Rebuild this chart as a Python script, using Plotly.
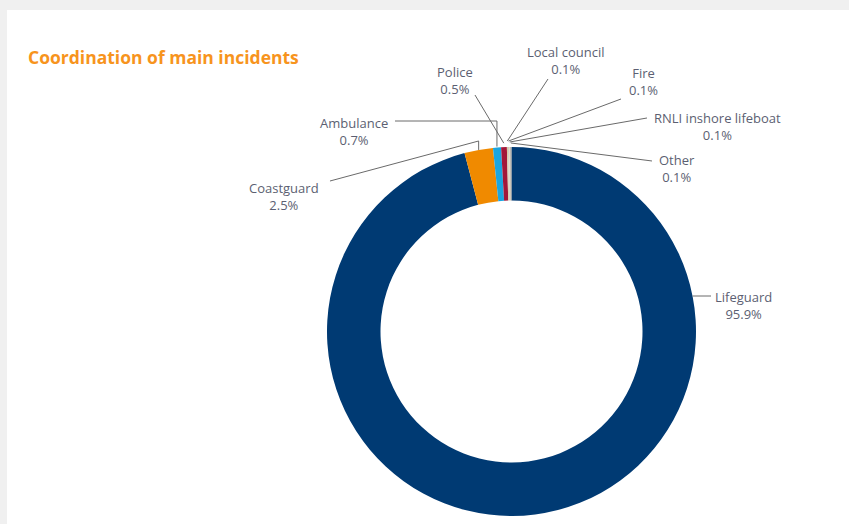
import math
import plotly.graph_objects as go

# ---- data ----
categories = ["Lifeguard", "Coastguard", "Ambulance", "Police", "Local council", "Fire",
              "RNLI inshore lifeboat", "Other"]
values = [95.9, 2.5, 0.7, 0.5, 0.1, 0.1, 0.1, 0.1]
value_labels = ["95.9%", "2.5%", "0.7%", "0.5%", "0.1%", "0.1%", "0.1%", "0.1%"]
colors = ["#003a73", "#f08a00", "#1ba6df", "#a2173a", "#d9c9a0", "#c8c8c8", "#e6d3b0", "#9a9a9a"]

W, H = 849, 524
CX, CY, R_OUT, R_IN = 511.5, 331.5, 184.5, 131.0

def px(x, y):
    return x / W, 1 - y / H

# label layout (pixel centres), leader-line start/elbow points and end-radius offsets
label_pos = {
    "Lifeguard": (743, 305),
    "Coastguard": (284, 196),
    "Ambulance": (354, 131),
    "Police": (455, 80),
    "Local council": (566, 61),
    "Fire": (643, 81),
    "RNLI inshore lifeboat": (717, 126),
    "Other": (677, 168),
}
line_start = {
    "Coastguard": [(330, 181), ("elbow_x", 141)],
    "Ambulance": [(395, 121), ("elbow_x", 121)],
    "Police": [(475, 95)],
    "Local council": [(548, 79)],
    "Fire": [(621, 99)],
    "RNLI inshore lifeboat": [(647, 118)],
    "Other": [(652, 161)],
}
end_offset = {"Coastguard": 0, "Ambulance": 1, "Police": 4, "Local council": 6,
              "Fire": 6, "RNLI inshore lifeboat": 5, "Other": 4}

fig = go.Figure()
fig.add_trace(go.Pie(
    labels=categories, values=values, sort=False, direction="clockwise", rotation=0,
    hole=R_IN / R_OUT, marker=dict(colors=colors, line=dict(width=0)),
    textinfo="none", hoverinfo="label+percent", showlegend=False,
    domain=dict(x=[(CX - R_OUT) / W, (CX + R_OUT) / W],
                y=[1 - (CY + R_OUT) / H, 1 - (CY - R_OUT) / H]),
))

shapes = [dict(type="rect", xref="paper", yref="paper", x0=7 / W, x1=1, y0=0, y1=1 - 10 / H,
               fillcolor="white", line=dict(width=0), layer="below")]

total = sum(values)
cum = 0.0
annotations = []
for cat, v, vl in zip(categories, values, value_labels):
    mid = (cum + v / 2) / total
    cum += v
    lx, ly = label_pos[cat]
    annotations.append(dict(
        x=lx / W, y=1 - ly / H, xref="paper", yref="paper", showarrow=False,
        text=f"{cat}<br>{vl}", xanchor="center", yanchor="middle", align="center",
        font=dict(family="Open Sans", size=13, color="#5c5f72")))
    if cat == "Lifeguard":
        yy = 296
        ex = CX + math.sqrt(R_OUT ** 2 - (yy - CY) ** 2)
        pts = [(711, yy), (ex, yy)]
    else:
        ang = 2 * math.pi * mid
        rr = R_OUT + end_offset[cat]
        ex, ey = CX + rr * math.sin(ang), CY - rr * math.cos(ang)
        pts = []
        for p in line_start[cat]:
            if p[0] == "elbow_x":
                pts.append((ex, p[1]))
            else:
                pts.append(p)
        pts.append((ex, ey))
    path = ""
    for i, (x, y) in enumerate(pts):
        X, Y = px(x, y)
        path += ("M" if i == 0 else "L") + f"{X:.5f},{Y:.5f} "
    shapes.append(dict(type="path", xref="paper", yref="paper", path=path.strip(),
                       line=dict(color="#6a6a6a", width=1)))

annotations.append(dict(
    x=26 / W, y=1 - 57 / H, xref="paper", yref="paper", showarrow=False,
    text="<b>Coordination of main incidents</b>", xanchor="left", yanchor="middle",
    font=dict(family="Open Sans", size=17.5, color="#f7941d")))

fig.update_layout(
    width=W, height=H, margin=dict(l=0, r=0, t=0, b=0),
    paper_bgcolor="#f0f0f0", plot_bgcolor="white",
    shapes=shapes, annotations=annotations,
)
fig.write_html("out.html")
